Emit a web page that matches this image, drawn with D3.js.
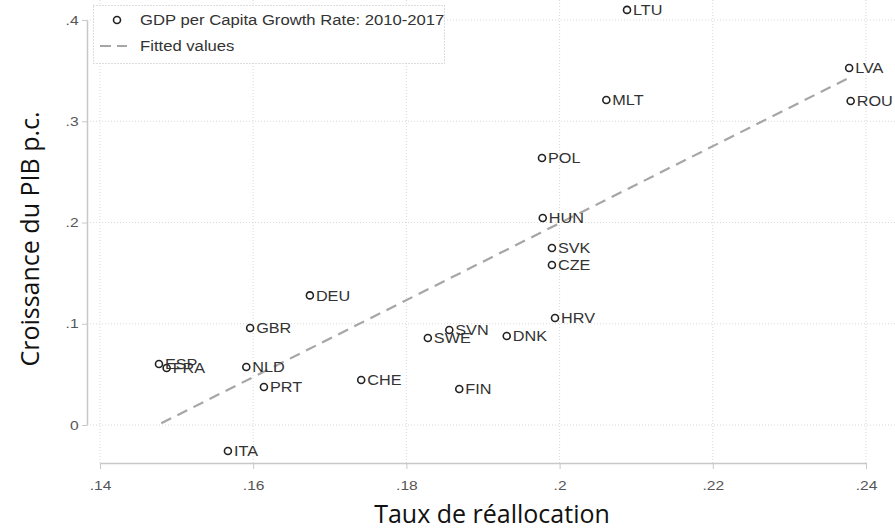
<!DOCTYPE html>
<html>
<head>
<meta charset="utf-8">
<script src="https://cdn.jsdelivr.net/npm/d3@7"></script>
<style>
  body { margin: 0; background: #fff; }
  svg { display: block; }
</style>
</head>
<body>
<svg id="chart" width="895" height="530"></svg>
<script>
// country codes and values
const countries = ["LTU", "LVA", "ROU", "MLT", "POL", "HUN", "SVK", "CZE", "HRV", "DNK",
  "SVN", "SWE", "FIN", "CHE", "DEU", "GBR", "NLD", "PRT", "ESP", "FRA", "ITA"];
const reallocation = [0.2088, 0.2378, 0.2380, 0.2061, 0.1977, 0.1978, 0.1990, 0.1990, 0.1994, 0.1931,
  0.1856, 0.1828, 0.1869, 0.1741, 0.1674, 0.1596, 0.1591, 0.1614, 0.1477, 0.1487, 0.1567];
const growth = [0.410, 0.3526, 0.320, 0.321, 0.2637, 0.2044, 0.1748, 0.158, 0.1057, 0.0879,
  0.0938, 0.0859, 0.0356, 0.0444, 0.128, 0.0958, 0.0573, 0.0375, 0.0602, 0.0563, -0.0257];
// fitted line end points
const fitX = [0.1480, 0.2378];
const fitY = [0.0017, 0.343];
const xTicks = [0.14, 0.16, 0.18, 0.20, 0.22, 0.24];
const yTicks = [0, 0.1, 0.2, 0.3, 0.4];

const svg = d3.select("#chart");
const x = d3.scaleLinear().domain([0.14, 0.24]).range([100, 866]);
const y = d3.scaleLinear().domain([0, 0.4]).range([425, 20]);
const plotLeft = 87, plotRight = 895, plotTop = 0, plotBottom = 463;

const fmt = (d) => d === 0 ? "0" : d3.format(".2~f")(d).replace(/^0/, "");
const grid = "#d9d9d9", axisCol = "#c8c8c8", tickTxt = "#555";
const sans = "'Liberation Sans', Arial, sans-serif";

// gridlines
svg.append("g").selectAll("line").data(yTicks).join("line")
  .attr("x1", plotLeft).attr("x2", plotRight)
  .attr("y1", (d) => y(d)).attr("y2", (d) => y(d))
  .attr("stroke", grid).attr("stroke-dasharray", "1,2");
svg.append("g").selectAll("line").data(xTicks).join("line")
  .attr("x1", (d) => x(d)).attr("x2", (d) => x(d))
  .attr("y1", plotTop).attr("y2", plotBottom)
  .attr("stroke", grid).attr("stroke-dasharray", "1,2");

// axes
const gx = svg.append("g").attr("transform", `translate(0,${plotBottom})`)
  .call(d3.axisBottom(x).tickValues(xTicks).tickFormat(fmt).tickSizeOuter(0).tickSizeInner(6).tickPadding(12));
const gy = svg.append("g").attr("transform", `translate(${plotLeft},0)`)
  .call(d3.axisLeft(y).tickValues(yTicks).tickFormat(fmt).tickSizeOuter(0).tickSizeInner(5).tickPadding(2));
[gx, gy].forEach((g) => {
  g.select(".domain").attr("stroke", axisCol).attr("stroke-width", 1.5);
  g.selectAll(".tick line").attr("stroke", axisCol);
  g.selectAll(".tick text").attr("fill", tickTxt).attr("transform", "scale(1.2,1)")
    .style("font-family", sans).style("font-size", "13px");
});

// fitted values
svg.append("line")
  .attr("x1", x(fitX[0])).attr("y1", y(fitY[0]))
  .attr("x2", x(fitX[1])).attr("y2", y(fitY[1]))
  .attr("stroke", "#a6a6a6").attr("stroke-width", 2.2).attr("stroke-dasharray", "11,7");

// points
const pts = countries.map((c, i) => ({ c, rx: reallocation[i], gy: growth[i] }));
const pg = svg.append("g");
pg.selectAll("circle").data(pts).join("circle")
  .attr("cx", (d) => x(d.rx)).attr("cy", (d) => y(d.gy)).attr("r", 3.5)
  .attr("fill", "none").attr("stroke", "#222").attr("stroke-width", 1.6);
pg.selectAll("text").data(pts).join("text")
  .attr("transform", (d) => `translate(${x(d.rx) + 6},${y(d.gy)}) scale(1.12,1)`)
  .attr("dy", "0.36em")
  .attr("fill", "#333")
  .style("font-family", sans).style("font-size", "14.5px")
  .text((d) => d.c);

// legend
const lg = svg.append("g");
lg.append("rect").attr("x", 93.5).attr("y", 5.5).attr("width", 351).attr("height", 58)
  .attr("fill", "#fff").attr("stroke", "#bbb").attr("stroke-dasharray", "1,2");
lg.append("circle").attr("cx", 117).attr("cy", 20).attr("r", 3.5)
  .attr("fill", "none").attr("stroke", "#222").attr("stroke-width", 1.6);
lg.append("line").attr("x1", 100).attr("x2", 127).attr("y1", 46).attr("y2", 46)
  .attr("stroke", "#a6a6a6").attr("stroke-width", 2).attr("stroke-dasharray", "11,6");
lg.selectAll("text").data(["GDP per Capita Growth Rate: 2010-2017", "Fitted values"]).join("text")
  .attr("transform", (d, i) => `translate(140,${i ? 46 : 20}) scale(1.15,1)`)
  .attr("dy", "0.36em")
  .attr("fill", "#333")
  .style("font-family", sans).style("font-size", "14.5px")
  .text((d) => d);

// axis titles
svg.append("text").attr("x", 492).attr("y", 523).attr("text-anchor", "middle")
  .style("font-family", "'Open Sans', sans-serif").style("font-size", "25px").attr("fill", "#111")
  .text("Taux de réallocation");
svg.append("text").attr("transform", "translate(39,239) rotate(-90)").attr("text-anchor", "middle")
  .style("font-family", "'Open Sans', sans-serif").style("font-size", "25px").attr("fill", "#111")
  .text("Croissance du PIB p.c.");
</script>
</body>
</html>
